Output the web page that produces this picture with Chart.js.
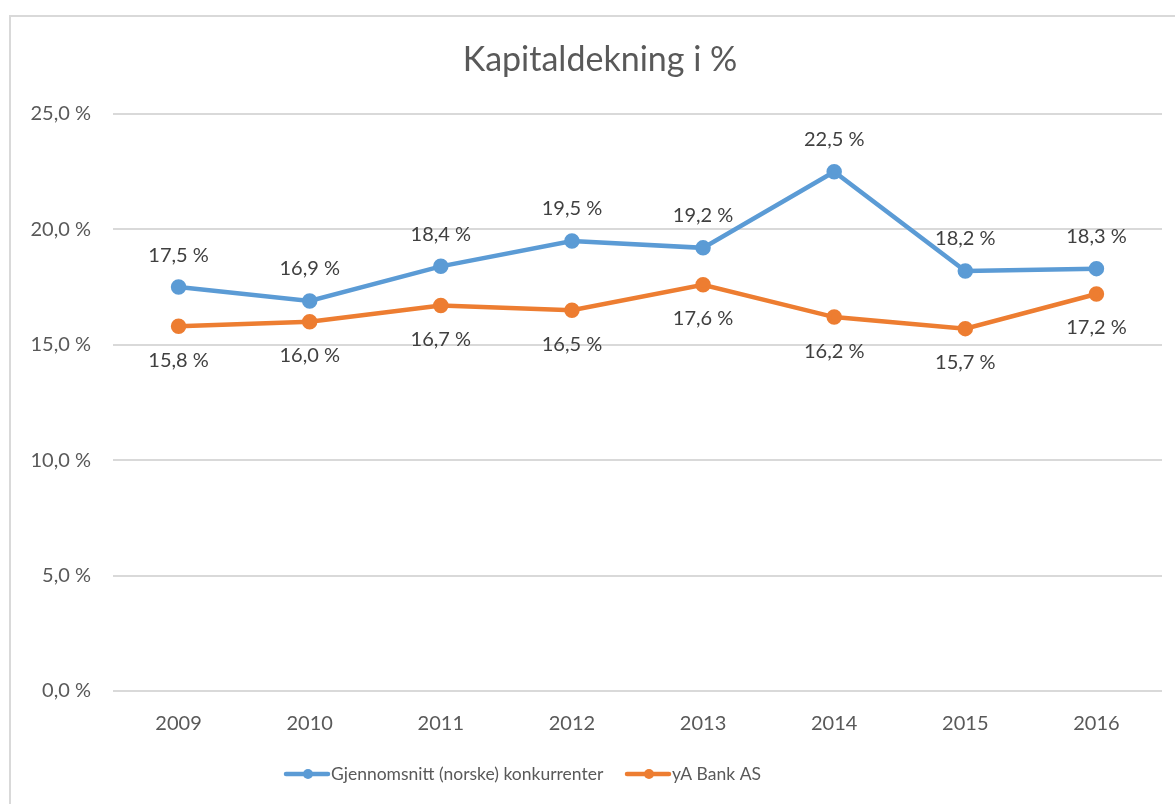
<!DOCTYPE html>
<html>
<head>
<meta charset="utf-8">
<script src="https://cdn.jsdelivr.net/npm/chart.js@4"></script>
<style>
  html, body { margin: 0; padding: 0; background: #fff; }
  #wrap { position: absolute; left: 0; top: 0; width: 1175px; height: 804px; }
</style>
</head>
<body>
<div id="wrap"><canvas id="chart"></canvas></div>
<script>
const years = ['2009', '2010', '2011', '2012', '2013', '2014', '2015', '2016'];
const competitors = [17.5, 16.9, 18.4, 19.5, 19.2, 22.5, 18.2, 18.3];
const bank = [15.8, 16.0, 16.7, 16.5, 17.6, 16.2, 15.7, 17.2];
const yTicks = [0, 5, 10, 15, 20, 25];

const FONT = 'Lato, "Open Sans", sans-serif';
const fmt = v => v.toFixed(1).replace('.', ',') + ' %';

// frame, title, value labels and legend
const decor = {
  id: 'decor',
  beforeDraw(chart) {
    const ctx = chart.ctx;
    ctx.save();
    ctx.strokeStyle = '#d9d9d9';
    ctx.lineWidth = 2;
    ctx.strokeRect(10, 16, 1180, 820);
    ctx.restore();
  },
  afterDatasetsDraw(chart) {
    const ctx = chart.ctx;
    ctx.save();
    ctx.fillStyle = '#595959';
    ctx.font = '34px ' + FONT;
    ctx.textAlign = 'center';
    ctx.textBaseline = 'middle';
    ctx.fillText('Kapitaldekning i %', 600, 60);

    ctx.font = '20px ' + FONT;
    ctx.fillStyle = '#404040';
    chart.data.datasets.forEach((ds, i) => {
      const meta = chart.getDatasetMeta(i);
      meta.data.forEach((pt, j) => {
        const dy = i === 0 ? -32 : 34;
        ctx.fillText(fmt(ds.data[j]), pt.x, pt.y + dy);
      });
    });

    // legend
    const items = [
      { x: 286, label: 'Gjennomsnitt (norske) konkurrenter', color: '#5b9bd5' },
      { x: 627, label: 'yA Bank AS', color: '#ed7d31' }
    ];
    const ly = 774;
    ctx.font = '17.5px ' + FONT;
    items.forEach(it => {
      ctx.strokeStyle = it.color;
      ctx.lineWidth = 4.5;
      ctx.lineCap = 'round';
      ctx.beginPath();
      ctx.moveTo(it.x, ly);
      ctx.lineTo(it.x + 42, ly);
      ctx.stroke();
      ctx.fillStyle = it.color;
      ctx.beginPath();
      ctx.arc(it.x + 22, ly, 5, 0, Math.PI * 2);
      ctx.fill();
      ctx.fillStyle = '#595959';
      ctx.textAlign = 'left';
      ctx.fillText(it.label, it.x + 45, ly);
    });
    ctx.restore();
  }
};

new Chart(document.getElementById('chart'), {
  type: 'line',
  data: {
    labels: years,
    datasets: [
      {
        label: 'Gjennomsnitt (norske) konkurrenter',
        data: competitors,
        borderColor: '#5b9bd5',
        backgroundColor: '#5b9bd5',
        borderWidth: 4.5,
        pointRadius: 5.5,
        pointHoverRadius: 5.5,
        tension: 0
      },
      {
        label: 'yA Bank AS',
        data: bank,
        borderColor: '#ed7d31',
        backgroundColor: '#ed7d31',
        borderWidth: 4.5,
        pointRadius: 5.5,
        pointHoverRadius: 5.5,
        tension: 0
      }
    ]
  },
  options: {
    responsive: true,
    maintainAspectRatio: false,
    animation: false,
    layout: { padding: { left: 10, right: 13, top: 114, bottom: 55 } },
    plugins: {
      legend: { display: false },
      tooltip: { enabled: false }
    },
    scales: {
      x: {
        offset: true,
        grid: { display: false },
        border: { display: false },
        ticks: { color: '#595959', font: { family: FONT, size: 20 }, padding: 13 }
      },
      y: {
        min: 0,
        max: 25,
        afterBuildTicks(axis) { axis.ticks = yTicks.map(v => ({ value: v })); },
        grid: { color: '#d9d9d9', lineWidth: 2, drawTicks: false },
        border: { display: false },
        ticks: {
          color: '#595959',
          font: { family: FONT, size: 20 },
          padding: 22,
          callback: v => fmt(v)
        },
        afterFit(axis) { axis.width = 103; }
      }
    }
  },
  plugins: [decor]
});
</script>
</body>
</html>
